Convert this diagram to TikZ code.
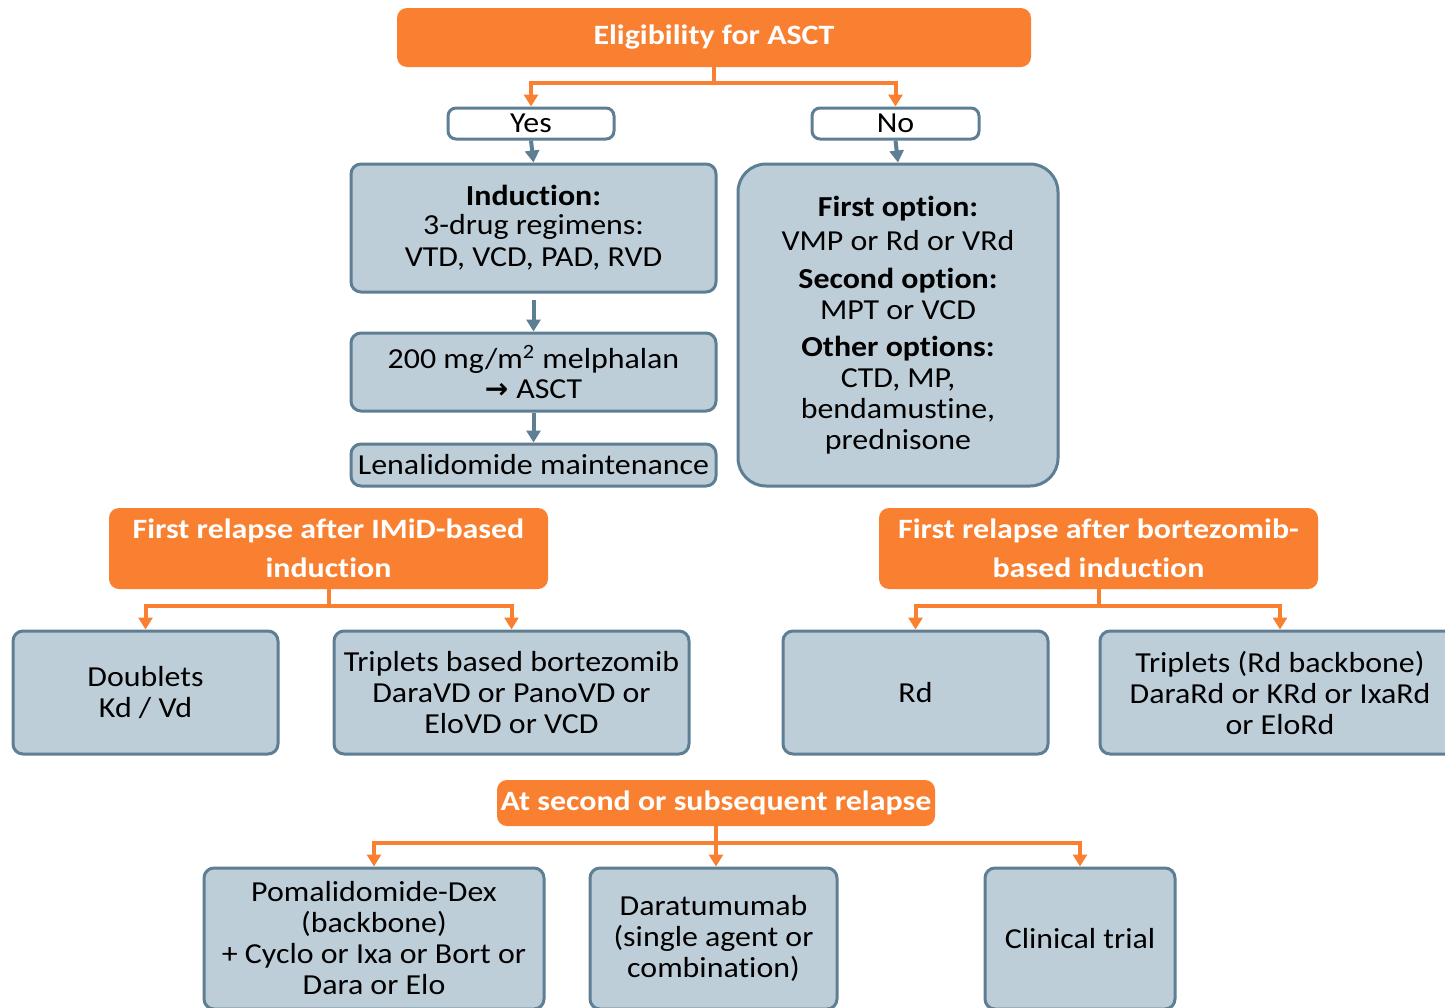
\documentclass[tikz,border=0pt]{standalone}
\usepackage{fontspec}
\setmainfont{Carlito}[FakeStretch=1.1, Ligatures=NoCommon]
\newfontfamily\ofont{Carlito}[FakeStretch=1.14, Ligatures=NoCommon]
\newfontfamily\arrfont{DejaVu Sans}
\usetikzlibrary{arrows.meta}
\definecolor{orng}{RGB}{249,128,48}
\definecolor{bfill}{RGB}{190,206,216}
\definecolor{bdraw}{RGB}{94,126,148}
\begin{document}
\begin{tikzpicture}[x=0.5pt,y=-0.5pt,
  txt/.style={font=\fontsize{14.5}{15.5}\selectfont, align=center, text=black},
  obox/.style={rectangle, rounded corners=5pt, fill=orng, draw=none, text=white,
    font=\ofont\fontsize{14}{19.5}\selectfont\bfseries, align=center, inner sep=0pt},
  gbox/.style={txt, rectangle, rounded corners=5pt, fill=bfill, draw=bdraw, line width=1.5pt, inner sep=0pt},
  wbox/.style={txt, rectangle, rounded corners=4pt, fill=white, draw=bdraw, line width=1.5pt, inner sep=0pt},
  oarr/.style={draw=orng, line width=2pt, -{Triangle[width=7pt,length=6pt]}},
  barr/.style={draw=bdraw, line width=2pt, -{Triangle[width=7pt,length=6pt]}}
]
\useasboundingbox (0,0) rectangle (1445,1007);
\clip (0,0) rectangle (1445,1007);

% top
\node[obox, minimum width=317pt, minimum height=29.5pt] (top) at (714,37.5) {Eligibility for ASCT};
\node[wbox, minimum width=83pt, minimum height=15.5pt] (yes) at (531,123.5) {Yes};
\node[wbox, minimum width=83.5pt, minimum height=15.5pt] (no) at (895.5,123.5) {No};

\node[gbox, minimum width=182.5pt, minimum height=64pt] (ind) at (533.5,228)
  {\textbf{Induction:}\\[-1pt] 3-drug regimens:\\[0.5pt] VTD, VCD, PAD, RVD};
\node[gbox, minimum width=182.5pt, minimum height=39pt] (mel) at (533.5,372)
  {200 mg/m\textsuperscript{2} melphalan\\[-0.5pt] {\arrfont\bfseries\fontsize{14}{14}\selectfont\raisebox{0.3pt}{→}}\;ASCT};
\node[gbox, minimum width=182.5pt, minimum height=21pt] (len) at (533.5,465) {Lenalidomide maintenance};

\node[gbox, rounded corners=14pt, minimum width=160pt, minimum height=161pt] (nob) at (898,325)
  {\textbf{First option:}\\[1.5pt] VMP or Rd or VRd\\[3.5pt] \textbf{Second option:}\\ MPT or VCD\\[3pt] \textbf{Other options:}\\ CTD, MP,\\ bendamustine,\\ prednisone};

% first relapse
\node[obox, minimum width=219.5pt, minimum height=40.5pt] (imid) at (328.5,548.5) {First relapse after IMiD-based\\ induction};
\node[gbox, minimum width=132.5pt, minimum height=61.5pt] (dbl) at (145.5,692.5) {Doublets\\ Kd / Vd};
\node[gbox, minimum width=177.5pt, minimum height=61.5pt] (tripv) at (511.5,692.5) {Triplets based bortezomib\\ DaraVD or PanoVD or\\ EloVD or VCD};

\node[obox, minimum width=219.5pt, minimum height=40.5pt] (bort) at (1098.5,548.5) {First relapse after bortezomib-\\ based induction};
\node[gbox, minimum width=132.5pt, minimum height=61.5pt] (rd) at (915.5,692.5) {Rd};
\node[gbox, minimum width=180pt, minimum height=61.5pt] (tripr) at (1280,692.5) {Triplets (Rd backbone)\\ DaraRd or KRd or IxaRd\\ or EloRd};

% second relapse
\node[obox, minimum width=219pt, minimum height=23pt] (sec) at (716,803) {At second or subsequent relapse};
\node[gbox, minimum width=170pt, minimum height=70.5pt] (pom) at (374,938.5) {Pomalidomide-Dex\\ (backbone)\\ + Cyclo or Ixa or Bort or\\ Dara or Elo};
\node[gbox, minimum width=123.5pt, minimum height=70.5pt] (dara) at (713.5,938.5) {Daratumumab\\ (single agent or\\ combination)};
\node[gbox, minimum width=95pt, minimum height=70.5pt] (clin) at (1080,938.5) {Clinical trial};

% connectors
\draw[oarr] (top.south) -- ++(0,16) -| (yes.north);
\draw[oarr] (top.south) -- ++(0,16) -| (no.north);
\draw[barr] (yes.south) -- (ind.north);
\draw[barr] (no.south) -- (nob.north);
\draw[barr, shorten <=3pt] (ind.south) -- (mel.north);
\draw[barr] (mel.south) -- (len.north);

\draw[oarr] (imid.south) -- ++(0,17) -| (dbl.north);
\draw[oarr] (imid.south) -- ++(0,17) -| (tripv.north);
\draw[oarr] (bort.south) -- ++(0,17) -| (rd.north);
\draw[oarr] (bort.south) -- ++(0,17) -| (tripr.north);

\draw[oarr] (sec.south) -- ++(0,17) -| (pom.north);
\draw[oarr] (sec.south) -- (sec.south |- dara.north);
\draw[oarr] (sec.south) -- ++(0,17) -| (clin.north);
\end{tikzpicture}
\end{document}
